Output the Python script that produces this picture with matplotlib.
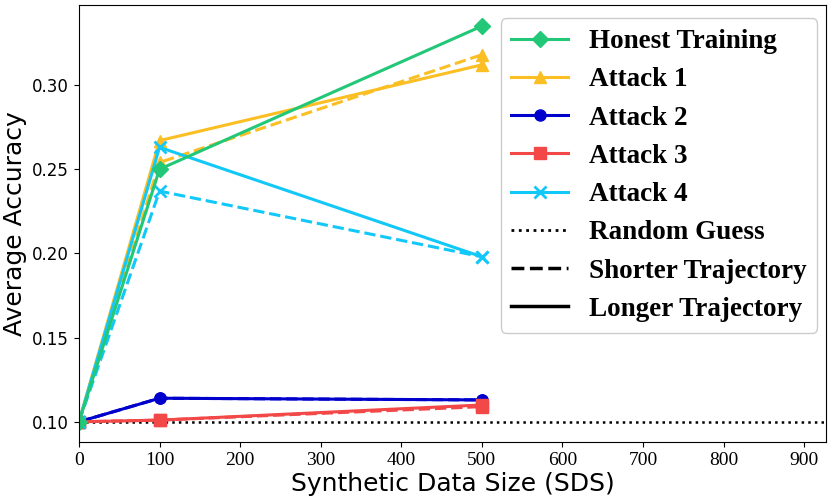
import matplotlib
matplotlib.use("Agg")
import matplotlib.pyplot as plt
from matplotlib.lines import Line2D

sds = [0, 100, 500]

honest = [0.100, 0.250, 0.335]
attack1_long = [0.100, 0.267, 0.312]
attack1_short = [0.100, 0.254, 0.318]
attack2_long = [0.100, 0.114, 0.113]
attack2_short = [0.100, 0.114, 0.113]
attack3_long = [0.100, 0.101, 0.110]
attack3_short = [0.100, 0.101, 0.109]
attack4_long = [0.100, 0.263, 0.198]
attack4_short = [0.100, 0.237, 0.198]
random_guess = 0.1

c_green = "#22c777"
c_yellow = "#fbbf24"
c_blue = "#0000cc"
c_red = "#f24848"
c_cyan = "#12c8f8"

fig = plt.figure(figsize=(8.31, 5.04), dpi=100)
ax = fig.add_axes([0.095, 0.123, 0.899, 0.867])

lw = 2.2
ms = 8

ax.axhline(random_guess, color="black", linestyle=":", linewidth=1.8)

ax.plot(sds, attack1_short, color=c_yellow, linestyle="--", marker="^", lw=lw, ms=ms)
ax.plot(sds, attack2_short, color=c_blue, linestyle="--", marker="o", lw=lw, ms=ms)
ax.plot(sds, attack3_short, color=c_red, linestyle="--", marker="s", lw=lw, ms=ms)
ax.plot(sds, attack4_short, color=c_cyan, linestyle="--", marker="x", lw=lw, ms=ms, mew=2)

ax.plot(sds, attack1_long, color=c_yellow, marker="^", lw=lw, ms=ms)
ax.plot(sds, attack2_long, color=c_blue, marker="o", lw=lw, ms=ms)
ax.plot(sds, attack3_long, color=c_red, marker="s", lw=lw, ms=ms)
ax.plot(sds, attack4_long, color=c_cyan, marker="x", lw=lw, ms=ms, mew=2)
ax.plot(sds, honest, color=c_green, marker="D", lw=lw, ms=ms)

ax.set_xlim(0, 927)
ax.set_ylim(0.088, 0.3475)
ax.set_xticks([0, 100, 200, 300, 400, 500, 600, 700, 800, 900])
ax.set_yticks([0.10, 0.15, 0.20, 0.25, 0.30])
ax.set_yticklabels(["0.10", "0.15", "0.20", "0.25", "0.30"], fontsize=12)
for lab in ax.get_xticklabels():
    lab.set_fontfamily("Liberation Serif")
    lab.set_fontsize(14)

ax.set_xlabel("Synthetic Data Size (SDS)", fontsize=18, labelpad=2)
ax.set_ylabel("Average Accuracy", fontsize=18)

handles = [
    Line2D([], [], color=c_green, marker="D", lw=lw, ms=ms),
    Line2D([], [], color=c_yellow, marker="^", lw=lw, ms=ms),
    Line2D([], [], color=c_blue, marker="o", lw=lw, ms=ms),
    Line2D([], [], color=c_red, marker="s", lw=lw, ms=ms),
    Line2D([], [], color=c_cyan, marker="x", lw=lw, ms=ms, mew=2),
    Line2D([], [], color="black", linestyle=":", lw=2),
    Line2D([], [], color="black", linestyle="--", lw=2.5),
    Line2D([], [], color="black", lw=2.5),
]
labels = ["Honest Training", "Attack 1", "Attack 2", "Attack 3", "Attack 4",
          "Random Guess", "Shorter Trajectory", "Longer Trajectory"]
ax.legend(handles, labels, loc="upper right", bbox_to_anchor=(0.988, 0.970),
          borderaxespad=0,
          prop={"family": "Liberation Serif", "weight": "bold", "size": 19.5},
          handlelength=2.1, handletextpad=0.75, labelspacing=0.49,
          borderpad=0.4, framealpha=1)

fig.savefig("out.png", dpi=100)
